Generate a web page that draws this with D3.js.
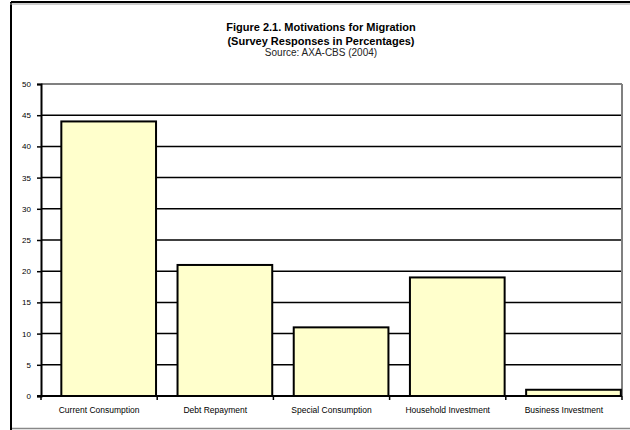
<!DOCTYPE html>
<html>
<head>
<meta charset="utf-8">
<script src="https://cdn.jsdelivr.net/npm/d3@7"></script>
<style>
  body { margin: 0; background: #fff; }
  text { font-family: "Liberation Sans", Arial, sans-serif; }
</style>
</head>
<body>
<svg id="chart" width="630" height="430"></svg>
<script>
const categories = ['Current Consumption', 'Debt Repayment', 'Special Consumption',
                    'Household Investment', 'Business Investment'];
const values = [44, 21, 11, 19, 1];
const yTicks = [0, 5, 10, 15, 20, 25, 30, 35, 40, 45, 50];
const titleLines = ['Figure 2.1. Motivations for Migration', '(Survey Responses in Percentages)'];
const sourceLine = 'Source: AXA-CBS (2004)';

//********FRAME**********//
const svg = d3.select('#chart');

svg.append('line')
    .attr('x1', 11).attr('x2', 11).attr('y1', 2).attr('y2', 430)
    .attr('stroke', '#000').attr('stroke-width', 2);
svg.append('line')
    .attr('x1', 11).attr('x2', 630).attr('y1', 2).attr('y2', 2)
    .attr('stroke', '#000').attr('stroke-width', 2);
svg.append('line')
    .attr('x1', 10).attr('x2', 630).attr('y1', 4).attr('y2', 4)
    .attr('stroke', '#999').attr('stroke-width', 1);
svg.append('line')
    .attr('x1', 12).attr('x2', 630).attr('y1', 428.5).attr('y2', 428.5)
    .attr('stroke', '#888').attr('stroke-width', 1.5);

//********TITLE**********//
svg.selectAll('.title')
    .data(titleLines)
  .enter().append('text')
    .attr('class', 'title')
    .attr('x', 321)
    .attr('y', (d, i) => 31 + i * 14)
    .attr('text-anchor', 'middle')
    .attr('font-size', '11px')
    .attr('font-weight', 'bold')
    .text(d => d);

svg.append('text')
    .attr('x', 321)
    .attr('y', 56)
    .attr('text-anchor', 'middle')
    .attr('font-size', '10px')
    .attr('fill', '#222')
    .text(sourceLine);

//********PLOT**********//
const margin = {top: 84, left: 41, right: 8, bottom: 34},
      width = 630 - margin.left - margin.right,
      height = 430 - margin.top - margin.bottom;

const g = svg.append('g')
    .attr('transform', `translate(${margin.left},${margin.top})`);

const x = d3.scaleBand()
    .domain(categories)
    .range([0, width])
    .padding(0);

const y = d3.scaleLinear()
    .domain([0, 50])
    .range([height, 0]);

// bars sit toward the right of each category slot, as in the original
const barOffset = x.bandwidth() * 0.175,
      barWidth = x.bandwidth() * 0.815;

// gridlines
g.selectAll('.grid')
    .data(yTicks.filter(t => t > 0))
  .enter().append('line')
    .attr('class', 'grid')
    .attr('x1', 0).attr('x2', width)
    .attr('y1', d => y(d)).attr('y2', d => y(d))
    .attr('stroke', d => d === 50 ? '#808080' : '#000')
    .attr('stroke-width', d => d === 50 ? 2 : 1.5);

// right border of plot area
g.append('line')
    .attr('x1', width).attr('x2', width)
    .attr('y1', y(50)).attr('y2', y(0))
    .attr('stroke', '#808080').attr('stroke-width', 2);

// bars
g.selectAll('.bar')
    .data(values)
  .enter().append('rect')
    .attr('class', 'bar')
    .attr('x', (d, i) => x(categories[i]) + barOffset)
    .attr('y', d => y(d))
    .attr('width', barWidth)
    .attr('height', d => y(0) - y(d))
    .attr('fill', '#FFFFCC')
    .attr('stroke', '#000')
    .attr('stroke-width', 2);

// y axis
const axisY = g.append('g')
    .call(d3.axisLeft(y).tickValues(yTicks).tickSize(4).tickPadding(6));
axisY.select('.domain').attr('stroke', '#000').attr('stroke-width', 2);
axisY.selectAll('.tick line').attr('stroke-width', 1.5);
axisY.selectAll('.tick text')
    .attr('font-size', '8px')
    .attr('fill', '#000')
    .style('font-family', '"Liberation Sans", Arial, sans-serif');

// x axis
const axisX = g.append('g')
    .attr('transform', `translate(0,${height})`);
axisX.append('line')
    .attr('x1', -4).attr('x2', width)
    .attr('stroke', '#000').attr('stroke-width', 2);
axisX.selectAll('.xtick')
    .data(categories.map(c => x(c)).concat([width]))
  .enter().append('line')
    .attr('class', 'xtick')
    .attr('x1', d => d).attr('x2', d => d)
    .attr('y1', 0).attr('y2', 4)
    .attr('stroke', '#000').attr('stroke-width', 1.5);
axisX.selectAll('.xlabel')
    .data(categories)
  .enter().append('text')
    .attr('class', 'xlabel')
    .attr('x', d => x(d) + x.bandwidth() / 2)
    .attr('y', 17)
    .attr('text-anchor', 'middle')
    .attr('font-size', '8.5px')
    .text(d => d);
</script>
</body>
</html>
